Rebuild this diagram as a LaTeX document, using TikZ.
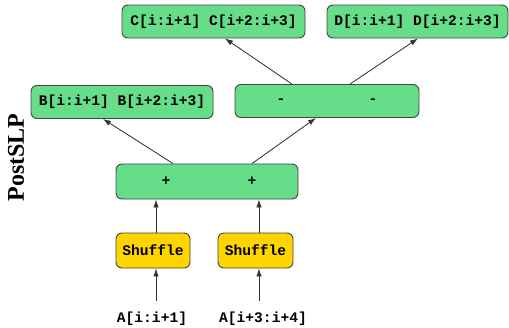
\documentclass[tikz,border=0pt]{standalone}
\usepackage{fontspec}
\setmainfont{Liberation Serif}
\setmonofont{Liberation Mono}
\usetikzlibrary{arrows.meta}
\definecolor{boxgreen}{HTML}{66DD88}
\definecolor{boxyellow}{HTML}{FFD500}
\definecolor{edgegray}{HTML}{444444}
\definecolor{arrgray}{HTML}{333333}
\begin{document}
\begin{tikzpicture}[x=1pt,y=-1pt,
  opbox/.style={draw=edgegray, line width=0.9pt, rounded corners=6pt, fill=boxgreen,
    minimum height=33pt, inner sep=0pt, font=\ttfamily\bfseries\fontsize{14.6}{16}\selectfont},
  shufbox/.style={draw=edgegray, line width=0.9pt, rounded corners=6pt, fill=boxyellow,
    minimum height=35pt, inner sep=0pt, font=\ttfamily\bfseries\fontsize{14.6}{16}\selectfont},
  lbl/.style={inner sep=0pt, font=\ttfamily\bfseries\fontsize{14.6}{16}\selectfont},
  arr/.style={draw=arrgray, line width=0.85pt, -{Latex[length=8pt,width=5.5pt]}}]
\useasboundingbox (0,0) rectangle (509,327);
\node[opbox, minimum width=183pt] (C) at (213.5,21.5) {C[i:i+1] C[i+2:i+3]};
\node[opbox, minimum width=181pt] (D) at (417.5,21.5) {D[i:i+1] D[i+2:i+3]};
\node[opbox, minimum width=182pt] (B) at (122,102) {B[i:i+1] B[i+2:i+3]};
\node[opbox, minimum width=184pt] (M) at (327,101) {\makebox[101pt]{-\hfill-}};
\node[opbox, minimum width=182pt, minimum height=35pt] (P) at (207,181.5) {\hspace{4pt}\makebox[95pt]{+\hfill+}};
\node[shufbox, minimum width=74pt] (S1) at (153,250.5) {Shuffle};
\node[shufbox, minimum width=75pt] (S2) at (255.5,250.5) {Shuffle};
\node[lbl] (A1) at (152,319) {A[i:i+1]};
\node[lbl] (A2) at (263,319) {A[i+3:i+4]};
\node[rotate=90, inner sep=0pt, font=\bfseries\fontsize{24}{24}\selectfont] (title) at (16,157.5) {PostSLP};
\draw[arr] ([xshift=-34pt]P.north) -- ([xshift=-19pt]B.south);
\draw[arr] ([xshift=45pt]P.north) -- ([xshift=-11pt]M.south);
\draw[arr] ([xshift=-35pt]M.north) -- ([xshift=11.5pt]C.south);
\draw[arr] ([xshift=23pt]M.north) -- ([xshift=0.5pt]D.south);
\draw[arr] ([xshift=3pt]S1.north) -- ([xshift=-51pt]P.south);
\draw[arr] ([xshift=3.5pt]S2.north) -- ([xshift=52pt]P.south);
\draw[arr] ([xshift=4pt,yshift=11pt]A1.north) -- ([xshift=3pt]S1.south);
\draw[arr] ([xshift=-4pt,yshift=11pt]A2.north) -- ([xshift=3.5pt]S2.south);
\end{tikzpicture}
\end{document}
